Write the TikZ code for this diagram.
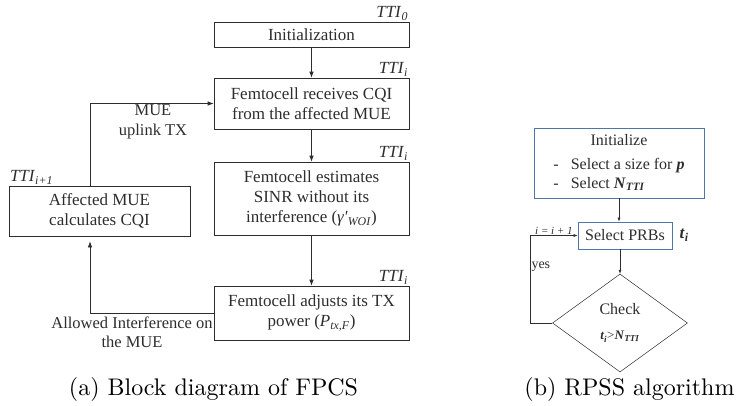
\documentclass[tikz,border=0pt]{standalone}
\usepackage{fontspec}
\usetikzlibrary{arrows.meta,shapes.geometric,positioning}
\newfontfamily\tnr{Liberation Serif}
\newfontfamily\capfont{lmroman10-regular}[Extension=.otf]
\definecolor{boxblue}{RGB}{79,118,168}
\definecolor{linegray}{RGB}{45,45,45}
\newcommand{\tsub}[2]{\textit{#1}\textsubscript{\textit{#2}}}
\newcommand{\bsub}[2]{\textbf{\textit{#1}}\textsubscript{\textbf{\textit{#2}}}}

\begin{document}
\begin{tikzpicture}[x=1pt,y=-1pt,->,>={Latex[length=6pt,width=4.5pt]},line width=0.7pt,color=linegray,
  block/.style={draw,rectangle,minimum width=195pt,inner sep=2pt,align=center,
    font=\tnr\fontsize{17}{20}\selectfont},
  tti/.style={inner sep=1pt,font=\tnr\fontsize{17}{20}\selectfont},
  lbl/.style={align=center,inner sep=1pt,font=\tnr\fontsize{16.5}{19.5}\selectfont},
  bluebox/.style={draw=boxblue,line width=0.8pt,rectangle,inner sep=2pt,
    font=\tnr\fontsize{16}{19}\selectfont},
  caption/.style={inner sep=0pt,text=black,font=\capfont\fontsize{24}{28}\selectfont}]
\useasboundingbox (0,0) rectangle (736,405);

% (a) block diagram
\node[block,minimum height=25pt] (init) at (311.5,34.5) {Initialization};
\node[block,minimum height=51pt] (recv) at (311.5,103.5) {Femtocell receives CQI\\from the affected MUE};
\node[block,minimum height=73pt] (est) at (311.5,198.5) {Femtocell estimates\\SINR without its\\interference (\tsub{γ'}{WOI})};
\node[block,minimum height=54pt] (adj) at (311.5,313) {Femtocell adjusts its TX\\power (\tsub{P}{tx,F})};
\node[block,minimum width=181pt,minimum height=50pt] (mue) at (99.5,211) {Affected MUE\\calculates CQI};

\node[tti,anchor=south east] (tti0) at (init.north east) {\tsub{TTI}{0}};
\node[tti,anchor=south east] (tti1) at (recv.north east) {\tsub{TTI}{i}};
\node[tti,anchor=south east] (tti2) at (est.north east) {\tsub{TTI}{i}};
\node[tti,anchor=south east] (tti3) at (adj.north east) {\tsub{TTI}{i}};
\node[tti,anchor=south west] (tti4) at (mue.north west) {\tsub{TTI}{i+1}};

\draw (init) -- (recv);
\draw (recv) -- (est);
\draw (est) -- (adj);
\draw ([xshift=-9.5pt]mue.north) |- (recv.west);
\draw[shorten >=5pt] (adj.west) -| ([xshift=-9.5pt]mue.south);
\node[lbl] (uplink) at (153,122) {MUE\\uplink TX};
\node[lbl] (allowed) at (132,332.5) {Allowed Interference on\\the MUE};

% (b) RPSS algorithm
\begin{scope}[line width=0.5pt,>={Latex[length=4pt,width=3pt]}]
\node[bluebox,minimum width=170pt,minimum height=70pt] (initz) at (619,163)
  {\begin{tabular}{@{}l@{}}
    \multicolumn{1}{c}{Initialize}\\[5pt]
    -\hspace{12pt}Select a size for \textbf{\textit{p}}\\
    -\hspace{12pt}Select \bsub{N}{TTI}
  \end{tabular}};
\node[bluebox,minimum width=94pt,minimum height=27pt] (prbs) at (625,235.5) {Select PRBs};
\node[tti,anchor=west] (ti) at ([xshift=6pt]prbs.east) {\bsub{t}{i}};
\node[diamond,draw,align=center,minimum width=135pt,minimum height=98pt,inner sep=0pt,
  font=\tnr\fontsize{16}{19}\selectfont] (chk) at (620,323)
  {Check\\[6pt]{\fontsize{13}{15}\selectfont\bsub{t}{i}>\bsub{N}{TTI}}};

\draw (initz.south) -- (initz.south |- prbs.north);
\draw (chk.north |- prbs.south) -- (chk.north);
\draw (chk.west) -- ++(-22,0) |- node[pos=0.32,right,lbl,font=\tnr\fontsize{14}{16}\selectfont] {yes}
  node[pos=0.75,above,inner sep=1pt,font=\tnr\fontsize{11}{12}\selectfont] {\textit{i = i + 1}} (prbs.west);
\end{scope}

\node[caption] (capa) at (213.5,389) {(a) Block diagram of FPCS};
\node[caption] (capb) at (629.5,389) {(b) RPSS algorithm};
\end{tikzpicture}
\end{document}
